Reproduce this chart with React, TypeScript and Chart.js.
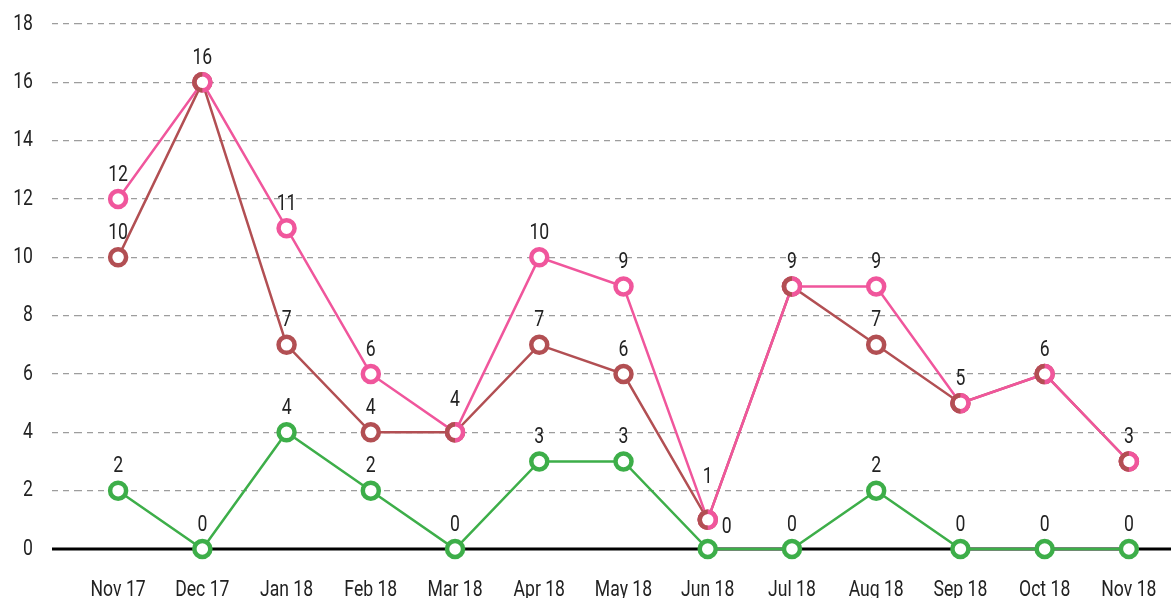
import React, { useEffect, useRef } from "react";
import { Chart, registerables } from "chart.js";

Chart.register(...registerables);

const categories = ["Nov 17", "Dec 17", "Jan 18", "Feb 18", "Mar 18", "Apr 18", "May 18", "Jun 18", "Jul 18", "Aug 18", "Sep 18", "Oct 18", "Nov 18"];
const pinkValues = [12, 16, 11, 6, 4, 10, 9, 1, 9, 9, 5, 6, 3];
const brownValues = [10, 16, 7, 4, 4, 7, 6, 1, 9, 7, 5, 6, 3];
const greenValues = [2, 0, 4, 2, 0, 3, 3, 0, 0, 2, 0, 0, 0];
const yMin = 0;
const yMax = 18;
const yStep = 2;

const PINK = "#f0569c";
const BROWN = "#b24f53";
const GREEN = "#3dae49";
const FONT = "Roboto, 'DejaVu Sans Condensed', sans-serif";
const TEXT = "#222222";
const TEXT_SCALE_X = 0.8;

const zeroLinePlugin = {
  id: "zeroLine",
  beforeDatasetsDraw(chart: any) {
    const ctx = chart.ctx;
    const y = chart.scales.y.getPixelForValue(0);
    ctx.save();
    ctx.strokeStyle = "#000000";
    ctx.lineWidth = 3;
    ctx.beginPath();
    ctx.moveTo(chart.chartArea.left - 24, y);
    ctx.lineTo(chart.width, y);
    ctx.stroke();
    ctx.restore();
  },
};

const halfRingPlugin = {
  id: "halfRing",
  afterDatasetsDraw(chart: any) {
    const ctx = chart.ctx;
    const pinkMeta = chart.getDatasetMeta(0);
    ctx.save();
    ctx.strokeStyle = BROWN;
    ctx.lineWidth = 4.5;
    pinkMeta.data.forEach((pp: any, i: number) => {
      if (pinkValues[i] === brownValues[i]) {
        ctx.beginPath();
        ctx.arc(pp.x, pp.y, 8, Math.PI / 2, (3 * Math.PI) / 2);
        ctx.stroke();
      }
    });
    ctx.restore();
  },
};

const labelPlugin = {
  id: "valueLabels",
  afterDatasetsDraw(chart: any) {
    const ctx = chart.ctx;
    ctx.save();
    ctx.font = `22px ${FONT}`;
    ctx.fillStyle = TEXT;
    ctx.textAlign = "center";
    ctx.textBaseline = "middle";
    const datasets = chart.data.datasets;
    const metas = datasets.map((_: any, i: number) => chart.getDatasetMeta(i));
    const seen: string[] = [];
    const H = 15;
    datasets.forEach((ds: any, di: number) => {
      const meta = metas[di];
      meta.data.forEach((pt: any, i: number) => {
        const v = ds.data[i];
        if (v == null) return;
        const text = String(v);
        const key = `${i}:${text}`;
        if (seen.includes(key)) return;
        seen.push(key);
        const w = ctx.measureText(text).width * TEXT_SCALE_X;
        let x = pt.x;
        let y = pt.y - 24;
        const hitsPoint = metas.some(
          (m: any, mj: number) =>
            mj !== di && m.data.some((q: any) => Math.abs(q.x - x) < w / 2 + 10 && Math.abs(q.y - y) < H / 2 + 10)
        );
        if (hitsPoint) {
          x = pt.x + 19;
          y = pt.y - 22;
        } else {
          const prev = ds.data[i - 1];
          const next = ds.data[i + 1];
          if (prev != null && next != null && prev > v && next > v) {
            const pp = meta.data[i - 1];
            const np = meta.data[i + 1];
            const sl = (pt.x - pp.x) / (pt.y - pp.y);
            const sr = (np.x - pt.x) / (pt.y - np.y);
            const s = Math.min(sl, sr);
            let h = 24;
            while (s * h < w / 2 + 10 && h < 60) h += 1;
            y = pt.y - h;
          }
        }
        ctx.fillText(text, x, y);
      });
    });
    ctx.restore();
  },
};

function condenseText(ctx: CanvasRenderingContext2D) {
  const orig = ctx.fillText.bind(ctx);
  (ctx as any).fillText = (text: string, x: number, y: number, maxWidth?: number) => {
    ctx.save();
    ctx.translate(x, y);
    ctx.scale(TEXT_SCALE_X, 1);
    if (maxWidth !== undefined) orig(text, 0, 0, maxWidth / TEXT_SCALE_X);
    else orig(text, 0, 0);
    ctx.restore();
  };
}

export default function App() {
  const canvasRef = useRef<HTMLCanvasElement | null>(null);

  useEffect(() => {
    document.body.style.margin = "0";
    const canvas = canvasRef.current;
    if (!canvas) return;
    const ctx = canvas.getContext("2d");
    if (ctx) condenseText(ctx);
    const mkDs = (label: string, data: number[], color: string) => ({
      label,
      data,
      borderColor: color,
      backgroundColor: "#ffffff",
      borderWidth: 2.5,
      pointRadius: 8,
      pointHoverRadius: 8,
      pointBorderWidth: 4.5,
      pointBorderColor: color,
      pointBackgroundColor: "#ffffff",
      tension: 0,
      clip: false as any,
    });
    const chart = new Chart(canvas, {
      type: "line",
      data: {
        labels: categories,
        datasets: [
          mkDs("Pink", pinkValues, PINK),
          mkDs("Brown", brownValues, BROWN),
          mkDs("Green", greenValues, GREEN),
        ],
      },
      options: {
        animation: false,
        responsive: false,
        maintainAspectRatio: false,
        events: [],
        layout: { autoPadding: false, padding: { top: 24, left: 0, right: 0, bottom: 0 } },
        plugins: {
          legend: { display: false },
          tooltip: { enabled: false },
        },
        scales: {
          x: {
            type: "category",
            offset: true,
            grid: { display: false, drawTicks: false, tickLength: 0 },
            border: { display: false },
            ticks: {
              padding: 28,
              color: TEXT,
              font: { family: FONT, size: 22 },
              maxRotation: 0,
              autoSkip: false,
            },
            afterFit(scale: any) {
              scale.height = 49;
              scale.paddingLeft = 0;
              scale.paddingRight = 0;
            },
          },
          y: {
            min: yMin,
            max: yMax,
            border: { display: false, dash: [6, 5] },
            grid: {
              color: (c: any) => (c.tick && c.tick.value === 0 ? "rgba(0,0,0,0)" : "#9d9d9d"),
              tickColor: (c: any) => (c.tick && c.tick.value === 0 ? "rgba(0,0,0,0)" : "#9d9d9d"),
              lineWidth: 1.3,
              tickWidth: 1.3,
              tickLength: 24,
              tickBorderDash: [6, 5],
              drawTicks: true,
            },
            ticks: {
              stepSize: yStep,
              padding: 19,
              color: TEXT,
              font: { family: FONT, size: 22 },
            },
            afterFit(scale: any) {
              scale.width = 76;
              scale.paddingTop = 0;
              scale.paddingBottom = 0;
            },
          },
        },
      },
      plugins: [zeroLinePlugin, halfRingPlugin, labelPlugin],
    });
    return () => chart.destroy();
  }, []);

  return (
    <div style={{ position: "fixed", left: 0, top: 0, width: 1171, height: 598, background: "#ffffff" }}>
      <canvas ref={canvasRef} width={1171} height={598} style={{ display: "block", width: 1171, height: 598 }} />
    </div>
  );
}
